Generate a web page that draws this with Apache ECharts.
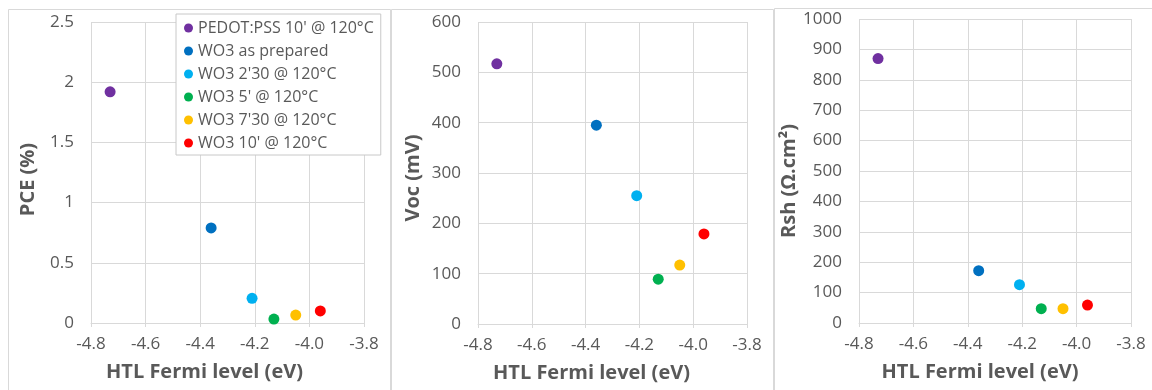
<!DOCTYPE html>
<html><head><meta charset="utf-8">
<script src="https://cdn.jsdelivr.net/npm/echarts@6/dist/echarts.min.js"></script>
<style>html,body{margin:0;padding:0;background:#fff}#c{width:1152px;height:390px}</style>
</head><body><div id="c"></div>
<script>
const seriesNames = ["PEDOT:PSS 10' @ 120°C", "WO3 as prepared", "WO3 2'30 @ 120°C", "WO3 5' @ 120°C", "WO3 7'30 @ 120°C", "WO3 10' @ 120°C"];
const seriesColors = ["#7030A0", "#0070C0", "#00B0F0", "#00B050", "#FFC000", "#FF0000"];
const fermiLevel = [-4.73, -4.36, -4.21, -4.13, -4.05, -3.96];
const pce = [1.92, 0.79, 0.205, 0.033, 0.066, 0.10];
const voc = [517, 395, 255, 89, 117, 179];
const rsh = [870, 172, 126, 47, 47, 59];
const xAxisTitle = "HTL Fermi level (eV)";
const yTitles = ["PCE (%)", "Voc (mV)", "Rsh (Ω.cm²)"];
const yMax = [2.5, 600, 1000];
const yInterval = [0.5, 100, 100];

const FONT = "Open Sans";
const TXT = "#595959";
const GRIDC = "#d9d9d9";
const panels = [
  {grid: {left: 91, top: 22, width: 273, height: 301}, gap: 53, xShift: 23, yShift: 7},
  {grid: {left: 478, top: 22, width: 269, height: 302}, gap: 55, xShift: 21, yShift: 5},
  {grid: {left: 859, top: 19, width: 272, height: 304}, gap: 56, xShift: 15, yShift: 10}
];
const dataSets = [pce, voc, rsh];

const grids = [], xAxes = [], yAxes = [], series = [];
panels.forEach((p, i) => {
  grids.push(Object.assign({containLabel: false}, p.grid));
  xAxes.push({
    type: 'value', gridIndex: i, min: -4.8, max: -3.8, interval: 0.2,
    name: xAxisTitle, nameLocation: 'middle', nameGap: 39,
    nameTextStyle: {color: TXT, fontFamily: FONT, fontWeight: 'bold', fontSize: 20, padding: [0, 2 * p.xShift, 0, 0]},
    axisLine: {show: true, lineStyle: {color: GRIDC}},
    axisTick: {show: true, length: 4, lineStyle: {color: GRIDC}},
    splitLine: {show: true, lineStyle: {color: GRIDC}},
    axisLabel: {color: TXT, fontFamily: FONT, fontSize: 17, margin: 13, formatter: v => v.toFixed(1)}
  });
  yAxes.push({
    type: 'value', gridIndex: i, min: 0, max: yMax[i], interval: yInterval[i],
    name: yTitles[i], nameLocation: 'middle', nameGap: p.gap, nameRotate: 90,
    nameTextStyle: {color: TXT, fontFamily: FONT, fontWeight: 'bold', fontSize: 20, padding: [0, 2 * p.yShift, 0, 0]},
    axisLine: {show: false}, axisTick: {show: false},
    splitLine: {show: true, lineStyle: {color: GRIDC}},
    axisLabel: {color: TXT, fontFamily: FONT, fontSize: 17, margin: 17, formatter: v => String(Math.round(v * 10) / 10)}
  });
  seriesNames.forEach((n, k) => {
    series.push({
      type: 'scatter', name: n, xAxisIndex: i, yAxisIndex: i,
      symbol: 'circle', symbolSize: 11,
      itemStyle: {color: seriesColors[k], opacity: 1},
      data: [[fermiLevel[k], dataSets[i][k]]]
    });
  });
});

const chart = echarts.init(document.getElementById('c'), null, {renderer: 'canvas'});
chart.setOption({
  animation: false,
  backgroundColor: '#fff',
  graphic: [
    {type: 'rect', shape: {x: 8.5, y: 9.5, width: 382, height: 400}, style: {fill: 'none', stroke: GRIDC, lineWidth: 1}, z: -10},
    {type: 'rect', shape: {x: 391.5, y: 9.5, width: 382, height: 400}, style: {fill: 'none', stroke: GRIDC, lineWidth: 1}, z: -10},
    {type: 'rect', shape: {x: 774.5, y: 8.5, width: 400, height: 400}, style: {fill: 'none', stroke: GRIDC, lineWidth: 1}, z: -10}
  ],
  legend: {
    data: seriesNames, orient: 'vertical', left: 176, top: 14,
    icon: 'circle', itemWidth: 9, itemHeight: 9, itemGap: 5,
    padding: [5, 7, 3, 8], borderColor: '#c8c8c8', borderWidth: 1, backgroundColor: '#fff',
    selectedMode: false,
    textStyle: {color: TXT, fontFamily: FONT, fontSize: 16, lineHeight: 18}
  },
  grid: grids, xAxis: xAxes, yAxis: yAxes, series: series
});
</script></body></html>
